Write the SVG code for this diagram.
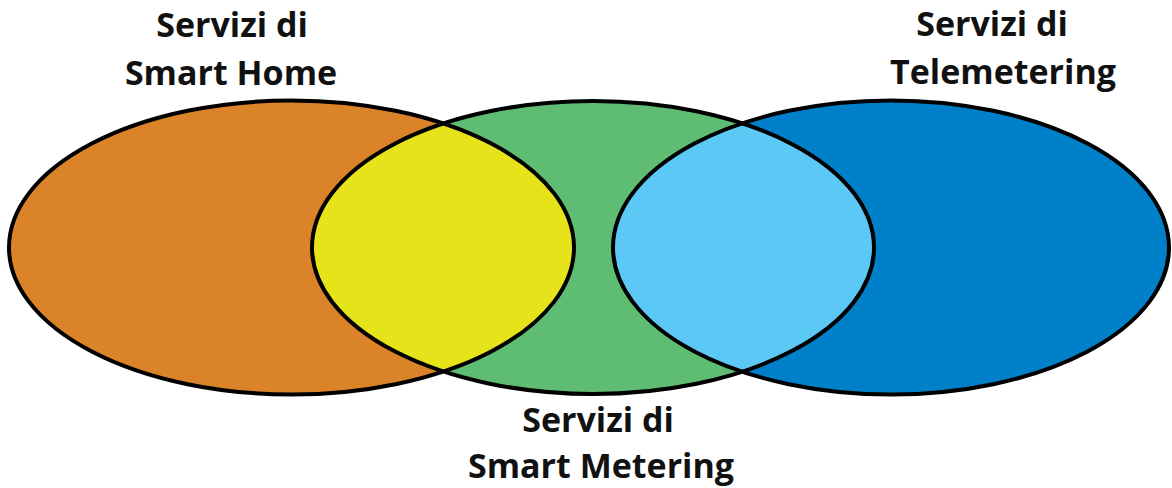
<svg xmlns="http://www.w3.org/2000/svg" width="1172" height="488" viewBox="0 0 1172 488">
<style>
.e{stroke:#000;stroke-width:4;fill:none}
.t{font-family:"Open Sans","Noto Sans",sans-serif;font-weight:bold;font-size:34px;fill:#111;text-anchor:middle}
</style>
<defs>
<ellipse id="eL" cx="291.5" cy="247.5" rx="282.5" ry="147"/>
<ellipse id="eM" cx="593" cy="247.5" rx="281" ry="146.5"/>
<ellipse id="eR" cx="891" cy="247.5" rx="278" ry="147"/>
<clipPath id="cL"><use href="#eL"/></clipPath>
<clipPath id="cR"><use href="#eR"/></clipPath>
</defs>
<rect width="1172" height="488" fill="#fff"/>
<g id="smart-home"><use href="#eL" fill="#DA8329"/></g>
<g id="telemetering"><use href="#eR" fill="#0080C8"/></g>
<g id="smart-metering"><use href="#eM" fill="#5EBD73"/></g>
<g id="overlap-home-metering"><use href="#eM" fill="#E6E31A" clip-path="url(#cL)"/></g>
<g id="overlap-metering-tele"><use href="#eM" fill="#5BC8F5" clip-path="url(#cR)"/></g>
<g id="outlines">
<use href="#eL" class="e"/>
<use href="#eM" class="e"/>
<use href="#eR" class="e"/>
</g>
<g id="labels">
<text class="t" x="232" y="37">Servizi di</text>
<text class="t" x="231" y="85">Smart Home</text>
<text class="t" x="992" y="36">Servizi di</text>
<text class="t" x="1003" y="84">Telemetering</text>
<text class="t" x="598" y="432">Servizi di</text>
<text class="t" x="601" y="478">Smart Metering</text>
</g>
</svg>
